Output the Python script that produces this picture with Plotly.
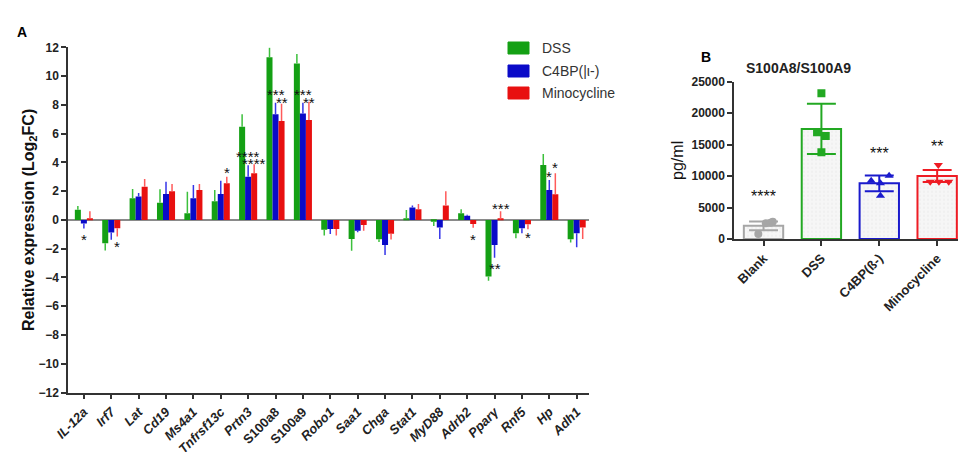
import plotly.graph_objects as go

# ---------------- Panel A data ----------------
genes = ["IL-12a", "Irf7", "Lat", "Cd19", "Ms4a1", "Tnfrsf13c", "Prtn3", "S100a8", "S100a9",
         "Robo1", "Saa1", "Chga", "Stat1", "MyD88", "Adrb2", "Pparγ", "Rnf5", "Hp", "Adh1"]
upright = ["S100a8", "S100a9"]
dss = [0.7, -1.62, 1.5, 1.2, 0.46, 1.3, 6.48, 11.3, 10.88, -0.69, -1.32, -1.34, 0.12, -0.12, 0.46, -3.93, -0.93, 3.82, -1.34]
dss_err = [0.27, 0.5, 0.65, 0.93, 1.5, 0.78, 0.86, 0.67, 0.65, 0.4, 0.83, 0.2, 0.57, 0.3, 0.28, 0.3, 0.35, 0.76, 0.23]
c4bp = [-0.25, -0.88, 1.62, 1.8, 1.5, 1.8, 3.0, 7.34, 7.4, -0.63, -0.76, -1.74, 0.86, -0.53, 0.28, -1.74, -0.58, 2.08, -0.93]
c4bp_err = [0.35, 0.5, 0.25, 0.86, 0.93, 0.93, 0.8, 0.8, 0.75, 0.35, 0.1, 0.7, 0.14, 0.8, 0.07, 0.9, 0.35, 0.7, 0.97]
mino = [0.1, -0.58, 2.3, 2.0, 2.08, 2.55, 3.24, 6.87, 6.94, -0.63, -0.35, -0.97, 0.74, 1.0, -0.28, 0.05, -0.3, 1.78, -0.53]
mino_err = [0.5, 0.57, 0.55, 0.5, 0.42, 0.45, 0.63, 1.2, 1.27, 0.45, 0.4, 0.4, 0.37, 1.0, 0.27, 0.55, 0.35, 1.46, 0.8]
series_names = ["DSS", "C4BP(|ι-)", "Minocycline"]

# significance marks: (gene, series index, text, y)
stars_a = [("IL-12a", 1, "*", -1.15), ("Irf7", 2, "*", -1.65), ("Tnfrsf13c", 2, "*", 3.5),
           ("Prtn3", 1, "****", 4.62), ("Prtn3", 2, "****", 4.12),
           ("S100a8", 1, "***", 8.9), ("S100a8", 2, "**", 8.4),
           ("S100a9", 1, "***", 8.96), ("S100a9", 2, "**", 8.4),
           ("Adrb2", 2, "*", -1.15), ("Pparγ", 2, "***", 1.0), ("Pparγ", 1, "**", -3.15),
           ("Rnf5", 2, "*", -1.0), ("Hp", 1, "*", 3.2), ("Hp", 2, "*", 3.85)]

# ---------------- Panel B data ----------------
groups_b = ["Blank", "DSS", "C4BP(ß-)", "Minocycline"]
mean_b = [2100, 17500, 8850, 10000]
sd_b = [700, 4000, 1250, 950]
points_b = [[800, 2500, 2600, 2750],
            [23150, 16950, 16370, 13770],
            [10060, 9270, 8850, 6890],
            [11760, 9110, 9110, 9110]]
stars_b = ["****", "", "***", "**"]
stars_b_y = [7100, 0, 13900, 15000]

# ---------------- styles ----------------
FONT = "Arial, Liberation Sans, sans-serif"
W, H = 959, 452
bar_colors = ["#14a014", "#0a0ac8", "#e81010"]
err_colors = ["#3cc03c", "#3535e8", "#ff5a5a"]
b_colors = ["#a6a6a6", "#22a822", "#1a1acc", "#ee1c24"]
b_symbols = ["circle", "square", "triangle-up", "triangle-down"]
b_jitter = [[-0.09, 0.04, 0.12, 0.16], [0.0, -0.075, 0.075, 0.0],
            [0.17, -0.14, 0.02, 0.02], [0.02, -0.12, 0.03, 0.2]]
bar_shift_px = [-6, 0, 6]
legend_x_px = (508, 529)
legend_y_px = [48, 71, 93]

fig = go.Figure()

for k, (vals, errs) in enumerate([(dss, dss_err), (c4bp, c4bp_err), (mino, mino_err)]):
    up = [e if v >= 0 else 0 for v, e in zip(vals, errs)]
    down = [e if v < 0 else 0 for v, e in zip(vals, errs)]
    fig.add_trace(go.Bar(
        x=genes, y=vals, name=series_names[k], showlegend=False,
        marker=dict(color=bar_colors[k], line=dict(width=0)),
        error_y=dict(type="data", symmetric=False, array=up, arrayminus=down,
                     color=err_colors[k], thickness=1.5, width=0),
        xaxis="x", yaxis="y"))

# Panel B bars
fig.add_trace(go.Bar(
    x=list(range(len(groups_b))), y=mean_b, width=0.68, showlegend=False,
    marker=dict(color="#f6f6f6", line=dict(color=b_colors, width=2),
                pattern=dict(shape=".", fgcolor="#dcdcdc", size=4, solidity=0.15)),
    xaxis="x2", yaxis="y2"))
for i in range(len(groups_b)):
    fig.add_trace(go.Scatter(
        x=[i, i], y=[mean_b[i] - sd_b[i], mean_b[i] + sd_b[i]], mode="lines",
        line=dict(color=b_colors[i], width=2), showlegend=False, hoverinfo="skip",
        xaxis="x2", yaxis="y2"))
    for yy in (mean_b[i] - sd_b[i], mean_b[i] + sd_b[i]):
        fig.add_trace(go.Scatter(
            x=[i - 0.25, i + 0.25], y=[yy, yy], mode="lines",
            line=dict(color=b_colors[i], width=2), showlegend=False, hoverinfo="skip",
            xaxis="x2", yaxis="y2"))
    fig.add_trace(go.Scatter(
        x=[i + j for j in b_jitter[i]], y=points_b[i], mode="markers",
        marker=dict(symbol=b_symbols[i], color=b_colors[i], size=8),
        showlegend=False, xaxis="x2", yaxis="y2"))

annotations = []
shapes = []
for gene, k, txt, yv in stars_a:
    annotations.append(dict(x=gene, y=yv, xref="x", yref="y", text=txt, showarrow=False,
                            xshift=bar_shift_px[k], yshift=-3,
                            font=dict(family=FONT, size=15, color="#111")))
for i, txt in enumerate(stars_b):
    if txt:
        annotations.append(dict(x=i, y=stars_b_y[i], xref="x2", yref="y2", text=txt,
                                showarrow=False, yshift=-2,
                                font=dict(family=FONT, size=16, color="#111")))

# manual legend (rounded swatches + labels)
for k, name in enumerate(series_names):
    yc = legend_y_px[k]
    shapes.append(dict(type="rect", xref="paper", yref="paper",
                       x0=legend_x_px[0] / W, x1=legend_x_px[1] / W,
                       y0=1 - (yc + 6) / H, y1=1 - (yc - 6) / H,
                       fillcolor=bar_colors[k], line=dict(color=bar_colors[k], width=1)))
    annotations.append(dict(x=540 / W, y=1 - yc / H, xref="paper", yref="paper",
                            xanchor="left", yanchor="middle", text=name, showarrow=False,
                            font=dict(family=FONT, size=14, color="#333")))

annotations += [
    dict(x=15 / W, y=1 - 22 / H, xref="paper", yref="paper", text="<b>A</b>",
         showarrow=False, font=dict(family=FONT, size=14, color="#000")),
    dict(x=713 / W, y=1 - 47 / H, xref="paper", yref="paper", text="<b>B</b>",
         showarrow=False, font=dict(family=FONT, size=14, color="#000")),
    dict(x=853 / W, y=1 - 58 / H, xref="paper", yref="paper", text="<b>S100A8/S100A9</b>",
         showarrow=False, font=dict(family=FONT, size=14, color="#222")),
]

ticktext_a = [("<b>%s</b>" % g) if g in upright else ("<b><i>%s</i></b>" % g) for g in genes]

fig.update_layout(
    width=W, height=H, margin=dict(l=0, r=0, t=0, b=0, autoexpand=False),
    paper_bgcolor="white", plot_bgcolor="white",
    font=dict(family=FONT, color="#222"),
    barmode="group", bargap=0.34, bargroupgap=0,
    showlegend=False,
    xaxis=dict(domain=[68 / W, 589 / W], anchor="y", type="category", automargin=False,
               range=[-0.58, 18.45], tickvals=genes, ticktext=ticktext_a,
               tickangle=-45, tickfont=dict(family=FONT, size=13, color="#222"),
               showline=True, linecolor="#333", linewidth=1.5, ticks="outside",
               ticklen=5, tickcolor="#333", tickwidth=1.5, showgrid=False),
    yaxis=dict(domain=[1 - 392.5 / H, 1 - 47.3 / H], anchor="x", range=[-12, 12],
               automargin=False,
               dtick=2, tickfont=dict(family=FONT, size=12, color="#222", weight="bold"),
               showline=True, linecolor="#333", linewidth=1.5, ticks="outside",
               ticklen=5, tickcolor="#333", tickwidth=1.5, showgrid=False,
               zeroline=True, zerolinecolor="#8a8a8a", zerolinewidth=1.5,
               title=dict(text="<b>Relative expression (Log<sub>2</sub>FC)</b>",
                          font=dict(family=FONT, size=16, color="#111"), standoff=0)),
    xaxis2=dict(domain=[734 / W, 958 / W], anchor="y2", range=[-0.51, 3.36],
                automargin=False,
                tickvals=list(range(len(groups_b))),
                ticktext=["<b>%s</b>" % g for g in groups_b], tickangle=-45,
                tickfont=dict(family=FONT, size=13, color="#222"),
                showline=True, linecolor="#333", linewidth=1.5, ticks="outside",
                ticklen=5, tickcolor="#333", tickwidth=1.5, showgrid=False, zeroline=False),
    yaxis2=dict(domain=[1 - 239 / H, 1 - 81.7 / H], anchor="x2", range=[0, 25000],
                automargin=False, tickformat="d",
                dtick=5000, tickfont=dict(family=FONT, size=12, color="#222", weight="bold"),
                showline=True, linecolor="#333", linewidth=1.5, ticks="outside",
                ticklen=5, tickcolor="#333", tickwidth=1.5, showgrid=False, zeroline=False,
                title=dict(text="pg/ml", font=dict(family=FONT, size=16, color="#111"),
                           standoff=4)),
    annotations=annotations,
    shapes=shapes,
)

fig.write_html("out.html", config={"displayModeBar": False},
               post_script="document.body.style.margin='0';document.body.style.overflow='hidden';")
